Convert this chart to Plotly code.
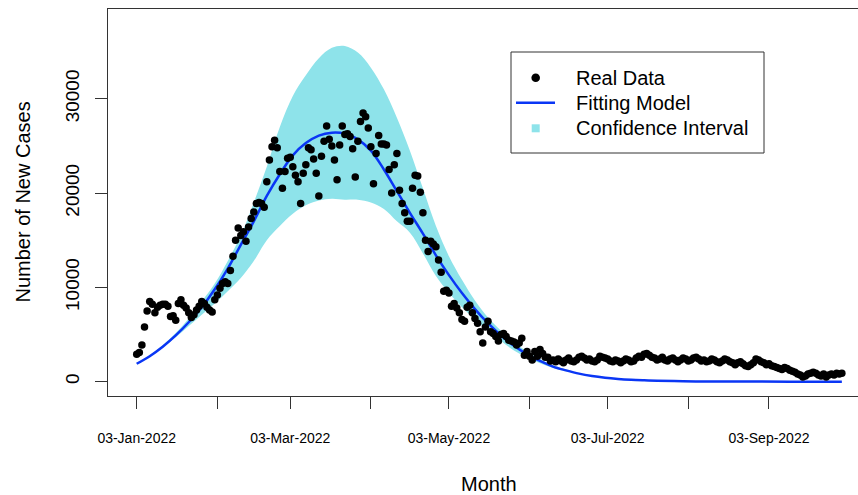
import pandas as pd
import plotly.graph_objects as go

# ---------------- data ----------------
start_date = "2022-01-03"

# daily new cases, one per day from 03-Jan-2022
cases = [
    2900, 3100, 3900, 5800, 7500, 8500, 8200, 7300, 7900, 8100,
    8200, 8200, 8000, 6900, 7000, 6500, 8300, 8700, 8100, 7800,
    7300, 6800, 7100, 7600, 8000, 8500, 8300, 7900, 7600, 7400,
    8700, 9200, 9900, 10400, 10600, 10400, 11800, 13300, 15000, 16300,
    15500, 15900, 14900, 16400, 17300, 18000, 18900, 19000, 18900, 18500,
    21200, 23500, 24900, 25600, 24800, 22300, 20500, 22300, 23700, 23800,
    22800, 21900, 21200, 18900, 22100, 23000, 24800, 24600, 23600, 22100,
    19700, 23900, 25500, 27100, 25700, 25000, 23500, 21400, 25100, 27100,
    26200, 26300, 26000, 24700, 21700, 25500, 27600, 28500, 28100, 26900,
    24900, 21000, 24200, 26100, 25200, 25200, 25100, 22500, 20000, 23000,
    24200, 20300, 18900, 17900, 17000, 17000, 20500, 21900, 21800, 20100,
    17900, 15000, 13800, 14900, 14600, 14300, 12900, 11600, 9600, 9700,
    9400, 8000, 8300, 7800, 7300, 6600, 6400, 7900, 8100, 7300,
    6700, 6200, 5300, 4100, 5800, 6400, 5300, 5100, 4800, 4300,
    5000, 5100, 4800, 4400, 4300, 4200, 3900, 4100, 4600, 2800,
    3200, 2700, 2300, 3200, 2700, 3400, 3000, 2600, 2600, 2200,
    2300, 2100, 2400, 2200, 2000, 2300, 2500, 2200, 2100, 2300,
    2600, 2700, 2500, 2300, 2400, 2200, 2100, 2300, 2700, 2600,
    2500, 2400, 2200, 2100, 2300, 2200, 2000, 2200, 2400, 2300,
    2100, 2200, 2500, 2700, 2600, 2900, 3000, 2800, 2600, 2500,
    2300, 2400, 2600, 2300, 2200, 2400, 2500, 2300, 2100, 2300,
    2500, 2400, 2200, 2300, 2500, 2600, 2400, 2200, 2300, 2100,
    2200, 2400, 2300, 2100, 2000, 2200, 2400, 2300, 2100, 2000,
    1800, 2000, 2100, 1900, 1700, 1600, 1800, 2000, 2400, 2300,
    2100, 2000, 1800, 1900, 1700, 1600, 1500, 1400, 1300, 1500,
    1400, 1200, 1100, 1000, 800, 700, 500, 600, 800, 900,
    1000, 900, 700, 600, 800, 500, 700, 800, 700, 900,
    800, 900,
]

# fitted model (days after start, value)
fit_days = [0, 5, 10, 15, 20, 25, 30, 35, 40, 45, 50, 55, 60, 65, 70, 75, 80,
            85, 90, 95, 100, 105, 110, 115, 120, 125, 130, 135, 140, 145, 150,
            155, 160, 165, 170, 175, 180, 185, 190, 195, 200, 210, 220, 230,
            240, 255, 271]
fit_values = [1900, 2700, 3700, 4900, 6300, 7900, 9800, 12000, 14500, 17000,
              19700, 22000, 24000, 25300, 26100, 26400, 26300, 25700, 24500,
              22500, 20200, 17900, 15700, 13400, 11300, 9400, 7700, 6200, 4900,
              3800, 2900, 2200, 1600, 1200, 850, 600, 420, 290, 200, 140, 95,
              45, 20, 10, 5, 2, 0]

# confidence interval (days after start, upper, lower)
ci_days = [0, 5, 10, 15, 20, 25, 30, 35, 40, 45, 50, 55, 60, 65, 70, 75, 80,
           85, 90, 95, 100, 105, 110, 115, 120, 125, 130, 135, 140, 145, 150,
           155, 160, 165, 170, 175, 180, 190, 200]
ci_upper = [1950, 2780, 3850, 5150, 6700, 8500, 10400, 12800, 15500, 19000,
            22800, 27000, 30300, 32500, 34300, 35400, 35600, 34900, 33300,
            31000, 28000, 24500, 20500, 16500, 13300, 10800, 8600, 6800, 5400,
            4200, 3200, 2400, 1750, 1300, 900, 620, 430, 205, 98]
ci_lower = [1850, 2640, 3600, 4700, 5900, 7100, 8300, 9600, 11000, 12800,
            15000, 16500, 17800, 18700, 19200, 19400, 19300, 19300, 19000,
            18300, 17000, 15800, 13600, 11200, 9400, 7900, 6600, 5400, 4300,
            3300, 2550, 1950, 1450, 1100, 800, 570, 400, 190, 92]

x_tick_dates = ["2022-01-03", "2022-02-03", "2022-03-03", "2022-04-03",
                "2022-05-03", "2022-06-03", "2022-07-03", "2022-08-03",
                "2022-09-03"]
x_tick_text = ["03-Jan-2022", "", "03-Mar-2022", "", "03-May-2022", "",
               "03-Jul-2022", "", "03-Sep-2022"]
y_tick_vals = [0, 10000, 20000, 30000]
y_tick_text = ["0", "10000", "20000", "30000"]

legend_labels = ["Real Data", "Fitting Model", "Confidence Interval"]

# ---------------- styles / layout ----------------
CI_COLOR = "#8EE3EA"
LINE_COLOR = "#0A36F5"
AXIS_COLOR = "#333333"
FONT = "Liberation Sans, Arial, Helvetica, sans-serif"

W, H = 858, 495
ML, MR, MT, MB = 108, 0, 9, 99
PW, PH = W - ML - MR, H - MT - MB


def px(xp):
    return (xp - ML) / PW


def py(yp):
    return (H - MB - yp) / PH


start = pd.Timestamp(start_date)
case_dates = start + pd.to_timedelta(list(range(len(cases))), unit="D")
fit_dates = start + pd.to_timedelta(fit_days, unit="D")
ci_dates = start + pd.to_timedelta(ci_days, unit="D")

fig = go.Figure()
fig.add_trace(go.Scatter(x=ci_dates, y=ci_lower, mode="lines",
                         line=dict(width=0, shape="spline", color=CI_COLOR),
                         showlegend=False, hoverinfo="skip"))
fig.add_trace(go.Scatter(x=ci_dates, y=ci_upper, mode="lines", fill="tonexty",
                         fillcolor=CI_COLOR, name=legend_labels[2],
                         line=dict(width=0, shape="spline", color=CI_COLOR),
                         showlegend=False, hoverinfo="skip"))
fig.add_trace(go.Scatter(x=fit_dates, y=fit_values, mode="lines",
                         name=legend_labels[1], showlegend=False,
                         line=dict(color=LINE_COLOR, width=2.5, shape="spline")))
fig.add_trace(go.Scatter(x=case_dates, y=cases, mode="markers",
                         name=legend_labels[0], showlegend=False,
                         marker=dict(color="black", size=7.5)))

# ---- legend drawn in R style (box, keys, labels) ----
box = (511, 52, 764, 153)
rows = [77.7, 102.7, 128.3]
key_x = 535.7
text_x = 574
shapes = [
    dict(type="rect", xref="paper", yref="paper",
         x0=px(box[0]), x1=px(box[2]), y0=py(box[3]), y1=py(box[1]),
         line=dict(color=AXIS_COLOR, width=1), fillcolor="white", layer="above"),
    dict(type="circle", xref="paper", yref="paper",
         x0=px(key_x - 4.3), x1=px(key_x + 4.3),
         y0=py(rows[0] + 4.3), y1=py(rows[0] - 4.3),
         line=dict(width=0), fillcolor="black", layer="above"),
    dict(type="line", xref="paper", yref="paper",
         x0=px(516), x1=px(555), y0=py(rows[1]), y1=py(rows[1]),
         line=dict(color=LINE_COLOR, width=2.5), layer="above"),
    dict(type="rect", xref="paper", yref="paper",
         x0=px(key_x - 4), x1=px(key_x + 4),
         y0=py(rows[2] + 4), y1=py(rows[2] - 4),
         line=dict(width=0), fillcolor=CI_COLOR, layer="above"),
]
annotations = [
    dict(text=lab, xref="paper", yref="paper", x=px(text_x), y=py(r),
         xanchor="left", yanchor="middle", showarrow=False,
         font=dict(size=20, family=FONT, color="black"))
    for lab, r in zip(legend_labels, rows)
]
annotations += [
    dict(text="Number of New Cases", xref="paper", yref="paper",
         x=px(22), y=py(202.5), xanchor="center", yanchor="middle",
         textangle=-90, showarrow=False,
         font=dict(size=20, family=FONT, color="black")),
    dict(text="Month", xref="paper", yref="paper",
         x=px(489), y=py(484), xanchor="center", yanchor="middle",
         showarrow=False, font=dict(size=20, family=FONT, color="black")),
]

fig.update_layout(
    width=W, height=H, autosize=False,
    margin=dict(l=ML, r=MR, t=MT, b=MB, pad=0),
    paper_bgcolor="white", plot_bgcolor="white",
    font=dict(family=FONT, color="black", size=20),
    hovermode=False, showlegend=False,
    xaxis=dict(type="date",
               range=["2021-12-22 23:15", "2022-10-07 05:00"],
               tickmode="array", tickvals=x_tick_dates, ticktext=x_tick_text,
               ticks="outside", ticklen=12, tickwidth=1, tickcolor=AXIS_COLOR,
               showline=True, linecolor=AXIS_COLOR, linewidth=1, mirror=True,
               showgrid=False, zeroline=False,
               tickfont=dict(size=14, family=FONT, color="black"),
               ticklabelstandoff=17),
    yaxis=dict(range=[-1520, 39520],
               tickmode="array", tickvals=y_tick_vals, ticktext=y_tick_text,
               tickangle=-90,
               ticks="outside", ticklen=12, tickwidth=1, tickcolor=AXIS_COLOR,
               showline=True, linecolor=AXIS_COLOR, linewidth=1, mirror=False,
               showgrid=False, zeroline=False,
               tickfont=dict(size=19, family=FONT, color="black"),
               ticklabelstandoff=8),
    shapes=shapes,
    annotations=annotations,
)

fig.write_html("out.html", config={"displayModeBar": False},
               post_script="document.body.style.margin='0px';")
